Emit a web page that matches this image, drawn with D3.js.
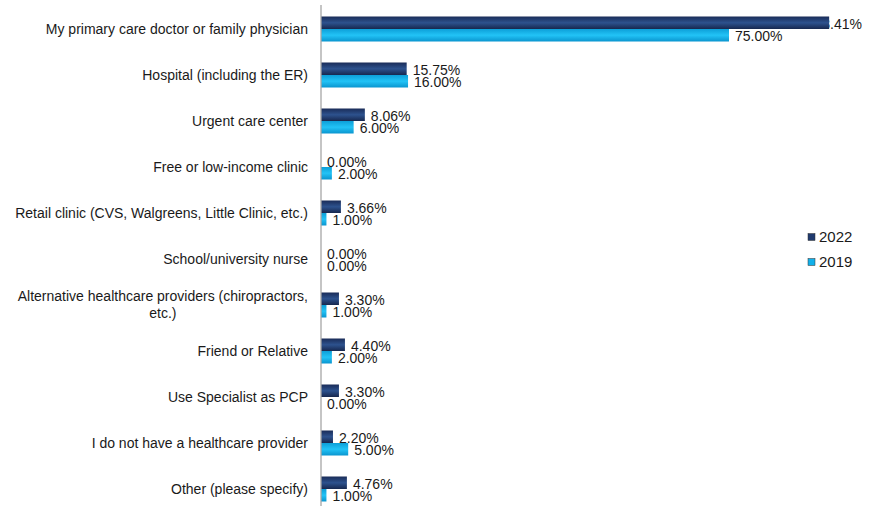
<!DOCTYPE html>
<html><head><meta charset="utf-8">
<script src="https://cdn.jsdelivr.net/npm/d3@7"></script>
<style>body{margin:0;background:#fff}svg{display:block;font-family:"Liberation Sans",Arial,sans-serif}</style>
</head><body>
<svg id="c" width="875" height="506"></svg>
<script>
const categories = [
  "My primary care doctor or family physician",
  "Hospital (including the ER)",
  "Urgent care center",
  "Free or low-income clinic",
  "Retail clinic (CVS, Walgreens, Little Clinic, etc.)",
  "School/university nurse",
  "Alternative healthcare providers (chiropractors,|etc.)",
  "Friend or Relative",
  "Use Specialist as PCP",
  "I do not have a healthcare provider",
  "Other (please specify)"
];
const values2022 = [93.41, 15.75, 8.06, 0.00, 3.66, 0.00, 3.30, 4.40, 3.30, 2.20, 4.76];
const values2019 = [75.00, 16.00, 6.00, 2.00, 1.00, 0.00, 1.00, 2.00, 0.00, 5.00, 1.00];
const seriesNames = ["2022", "2019"];

const svg = d3.select("#c");
const defs = svg.append("defs");
function grad(id, stops){
  const g = defs.append("linearGradient").attr("id", id).attr("x1",0).attr("y1",0).attr("x2",0).attr("y2",1);
  stops.forEach(([o,c]) => g.append("stop").attr("offset", o).attr("stop-color", c));
}
grad("gDark", [[0,"#1a2c58"],[0.5,"#2d528e"],[1,"#17284f"]]);
grad("gLight", [[0,"#0d9fd8"],[0.5,"#22c3f6"],[1,"#0a95cf"]]);
const fills = ["url(#gDark)", "url(#gLight)"];
const legendFills = ["#1f3a6e", "#12b0ea"];

const x = d3.scaleLinear().domain([0, 75]).range([321, 729]);
const y = d3.scaleBand().domain(d3.range(categories.length)).range([6, 512]).paddingInner(0).paddingOuter(0);
const barH = 12.5;
const fs = 14;

// category labels
const catG = svg.append("g");
categories.forEach((c, i) => {
  const cy = y(i) + y.bandwidth()/2;
  const lines = c.split("|");
  if (lines.length === 1) {
    catG.append("text").attr("x", 308).attr("y", cy).attr("dy", "0.35em")
      .attr("text-anchor", "end").attr("font-size", fs).attr("fill", "#1a1a1a").text(lines[0]);
  } else {
    const t1 = catG.append("text").attr("font-size", fs).attr("fill", "#1a1a1a").text(lines[0]);
    const w = t1.node().getComputedTextLength();
    const cx = 308 - w/2;
    t1.attr("x", cx).attr("text-anchor", "middle").attr("y", cy - 8.5).attr("dy", "0.35em");
    catG.append("text").attr("x", cx).attr("y", cy + 8.5).attr("dy", "0.35em")
      .attr("text-anchor", "middle").attr("font-size", fs).attr("fill", "#1a1a1a").text(lines[1]);
  }
});

const series = [values2022, values2019];
// value labels first (bars drawn over them)
const labG = svg.append("g");
series.forEach((vals, s) => {
  vals.forEach((v, i) => {
    const cy = y(i) + y.bandwidth()/2 + (s === 0 ? -barH/2 + 1.5 : barH/2 + 1);
    let lx = x(v) + 6;
    const t = labG.append("text").attr("y", cy).attr("dy", "0.35em")
      .attr("font-size", fs).attr("fill", "#1a1a1a").text(v.toFixed(2) + "%");
    const w = t.node().getComputedTextLength();
    if (lx + w > 862) lx = 862 - w;
    t.attr("x", lx);
  });
});

const barG = svg.append("g");
series.forEach((vals, s) => {
  barG.selectAll(null).data(vals).join("rect")
    .attr("x", x(0))
    .attr("y", (d, i) => y(i) + y.bandwidth()/2 - (s === 0 ? barH : 0))
    .attr("width", d => x(d) - x(0))
    .attr("height", barH)
    .attr("fill", fills[s]);
});

// axis line
svg.append("line").attr("x1", 321).attr("x2", 321).attr("y1", 5).attr("y2", 506)
  .attr("stroke", "#a6a6a6").attr("stroke-width", 1.3);

// legend
const lg = svg.append("g");
seriesNames.forEach((n, i) => {
  const ly = 237 + i * 25;
  lg.append("rect").attr("x", 808).attr("y", ly - 3.5).attr("width", 7).attr("height", 7)
    .attr("fill", legendFills[i]).attr("stroke", "#333").attr("stroke-width", 0.5);
  lg.append("text").attr("x", 819).attr("y", ly).attr("dy", "0.35em").attr("font-size", 15)
    .attr("fill", "#1a1a1a").text(n);
});
</script>
</body></html>
